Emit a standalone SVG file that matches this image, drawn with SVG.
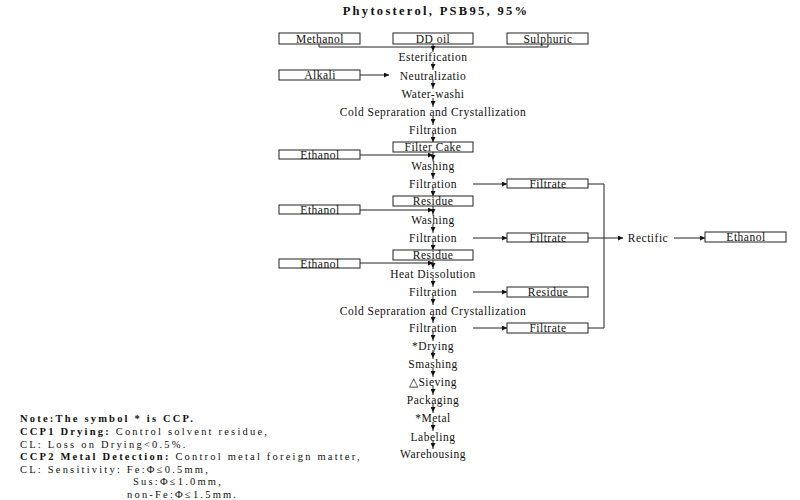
<svg xmlns="http://www.w3.org/2000/svg" width="800" height="500" viewBox="0 0 800 500">
<style>
text{font-family:"Liberation Serif","Times New Roman",serif;fill:#111}
.t{font-size:11.5px;letter-spacing:0.5px;text-anchor:middle}
.title{font-size:12.5px;font-weight:bold;letter-spacing:2.3px;text-anchor:middle}
.nb{font-size:10.5px;font-weight:bold;letter-spacing:2.2px}
.nr{font-size:10.5px;letter-spacing:2.2px}
.box rect{fill:#fff;stroke:#222;stroke-width:1}
.c line,.c polyline{stroke:#222;stroke-width:1;fill:none}
.a{marker-end:url(#ah)}
.v{marker-end:url(#av)}
</style>
<defs>
<marker id="ah" markerUnits="userSpaceOnUse" markerWidth="6" markerHeight="5" refX="5" refY="2.5" orient="auto">
<path d="M0,0 L5,2.5 L0,5 Z" fill="#111"/>
</marker>
<marker id="av" markerUnits="userSpaceOnUse" markerWidth="7" markerHeight="5" refX="6" refY="2.5" orient="auto">
<path d="M0,0 L5,2.5 L0,5 Z" fill="#111"/>
</marker>
</defs>
<rect width="800" height="500" fill="#fff"/>
<text class="title" x="436" y="15">Phytosterol, PSB95, 95%</text>

<g class="c" id="connectors">
<polyline points="319,44 319,47 548,47 548,44"/>
<line class="v" x1="433" y1="44" x2="433" y2="52"/>
<line class="v" x1="433" y1="62" x2="433" y2="70"/>
<line class="a" x1="360" y1="75" x2="389" y2="75"/>
<line class="v" x1="433" y1="80" x2="433" y2="89"/>
<line class="v" x1="433" y1="98" x2="433" y2="107"/>
<line class="v" x1="433" y1="116" x2="433" y2="125"/>
<line class="a" x1="433" y1="134" x2="433" y2="142"/>
<line class="v" x1="433" y1="152" x2="433" y2="161"/>
<line class="a" x1="360" y1="155" x2="433" y2="155"/>
<line class="v" x1="433" y1="170" x2="433" y2="179"/>
<line class="a" x1="433" y1="188" x2="433" y2="196"/>
<line class="v" x1="433" y1="206" x2="433" y2="215"/>
<line class="a" x1="360" y1="210" x2="433" y2="210"/>
<line class="v" x1="433" y1="224" x2="433" y2="233"/>
<line class="a" x1="433" y1="242" x2="433" y2="250"/>
<line class="v" x1="433" y1="260" x2="433" y2="269"/>
<line class="a" x1="360" y1="263" x2="433" y2="263"/>
<line class="v" x1="433" y1="278" x2="433" y2="287"/>
<line class="v" x1="433" y1="296" x2="433" y2="305"/>
<line class="v" x1="433" y1="315" x2="433" y2="323"/>
<line class="v" x1="433" y1="332" x2="433" y2="341"/>
<line class="v" x1="433" y1="350" x2="433" y2="359"/>
<line class="v" x1="433" y1="368" x2="433" y2="377"/>
<line class="v" x1="433" y1="386" x2="433" y2="395"/>
<line class="v" x1="433" y1="404" x2="433" y2="413"/>
<line class="v" x1="433" y1="422" x2="433" y2="431"/>
<line class="v" x1="433" y1="441" x2="433" y2="449"/>
<line class="a" x1="473" y1="184" x2="507" y2="184"/>
<line class="a" x1="473" y1="238" x2="507" y2="238"/>
<line class="a" x1="473" y1="292" x2="507" y2="292"/>
<line class="a" x1="473" y1="328" x2="507" y2="328"/>
<polyline points="588,184 604,184 604,328 588,328"/>
<line x1="588" y1="238" x2="604" y2="238"/>
<line class="a" x1="604" y1="238" x2="623" y2="238"/>
<line class="a" x1="674" y1="238" x2="705" y2="238"/>
</g>

<g id="methanol" class="box"><rect x="279" y="33" width="81" height="11"/><text class="t" x="320" y="42.5">Methanol</text></g>
<g id="ddoil" class="box"><rect x="393" y="33" width="80" height="11"/><text class="t" x="433" y="42.5">DD oil</text></g>
<g id="sulphuric" class="box"><rect x="507" y="33" width="81" height="11"/><text class="t" x="548" y="42.5">Sulphuric</text></g>
<g id="esterification"><text class="t" x="433" y="61">Esterification</text></g>
<g id="alkali" class="box"><rect x="279" y="70" width="81" height="10"/><text class="t" x="320" y="79">Alkali</text></g>
<g id="neutralization"><text class="t" x="433" y="79.5">Neutralizatio</text></g>
<g id="waterwash"><text class="t" x="433" y="97.5">Water-washi</text></g>
<g id="coldsep1"><text class="t" x="433" y="115.5">Cold Sepraration and Crystallization</text></g>
<g id="filtration1"><text class="t" x="433" y="133.5">Filtration</text></g>
<g id="filtercake" class="box"><rect x="393" y="142" width="80" height="10"/><text class="t" x="433" y="151">Filter Cake</text></g>
<g id="ethanol1" class="box"><rect x="279" y="150" width="81" height="9"/><text class="t" x="320" y="158.5">Ethanol</text></g>
<g id="washing1"><text class="t" x="433" y="169.5">Washing</text></g>
<g id="filtration2"><text class="t" x="433" y="187.5">Filtration</text></g>
<g id="filtrate1" class="box"><rect x="507" y="179" width="81" height="9"/><text class="t" x="548" y="187.5">Filtrate</text></g>
<g id="residue1" class="box"><rect x="393" y="196" width="80" height="10"/><text class="t" x="433" y="205">Residue</text></g>
<g id="ethanol2" class="box"><rect x="279" y="205" width="81" height="9"/><text class="t" x="320" y="213.5">Ethanol</text></g>
<g id="washing2"><text class="t" x="433" y="223.5">Washing</text></g>
<g id="filtration3"><text class="t" x="433" y="241.5">Filtration</text></g>
<g id="filtrate2" class="box"><rect x="507" y="233" width="81" height="9"/><text class="t" x="548" y="241.5">Filtrate</text></g>
<g id="residue2" class="box"><rect x="393" y="250" width="80" height="10"/><text class="t" x="433" y="259">Residue</text></g>
<g id="ethanol3" class="box"><rect x="279" y="259" width="81" height="9"/><text class="t" x="320" y="267.5">Ethanol</text></g>
<g id="heatdissolution"><text class="t" x="433" y="277.5">Heat Dissolution</text></g>
<g id="filtration4"><text class="t" x="433" y="295.5">Filtration</text></g>
<g id="residue3" class="box"><rect x="507" y="287" width="81" height="10"/><text class="t" x="548" y="296">Residue</text></g>
<g id="coldsep2"><text class="t" x="433" y="314.5">Cold Sepraration and Crystallization</text></g>
<g id="filtration5"><text class="t" x="433" y="331.5">Filtration</text></g>
<g id="filtrate3" class="box"><rect x="507" y="323" width="81" height="10"/><text class="t" x="548" y="332">Filtrate</text></g>
<g id="rectific"><text class="t" x="648" y="241.5">Rectific</text></g>
<g id="ethanol4" class="box"><rect x="705" y="232" width="81" height="10"/><text class="t" x="746" y="241">Ethanol</text></g>
<g id="drying"><text class="t" x="433" y="349.5">*Drying</text></g>
<g id="smashing"><text class="t" x="433" y="367.5">Smashing</text></g>
<g id="sieving"><text class="t" x="433" y="385.5">△Sieving</text></g>
<g id="packaging"><text class="t" x="433" y="403.5">Packaging</text></g>
<g id="metal"><text class="t" x="433" y="421.5">*Metal</text></g>
<g id="labeling"><text class="t" x="433" y="440.5">Labeling</text></g>
<g id="warehousing"><text class="t" x="433" y="457.5">Warehousing</text></g>

<g id="note">
<text class="nb" x="20" y="422">Note:The symbol * is CCP.</text>
<text x="20" y="435"><tspan class="nb">CCP1 Drying:</tspan><tspan class="nr"> Control solvent residue,</tspan></text>
<text class="nr" x="20" y="447.5">CL: Loss on Drying&lt;0.5%.</text>
<text x="20" y="460"><tspan class="nb">CCP2 Metal Detection:</tspan><tspan class="nr"> Control metal foreign matter,</tspan></text>
<text class="nr" x="20" y="472.5">CL: Sensitivity: Fe:Φ≤0.5mm,</text>
<text class="nr" x="133" y="485">Sus:Φ≤1.0mm,</text>
<text class="nr" x="127" y="497.5">non-Fe:Φ≤1.5mm.</text>
</g>
</svg>
